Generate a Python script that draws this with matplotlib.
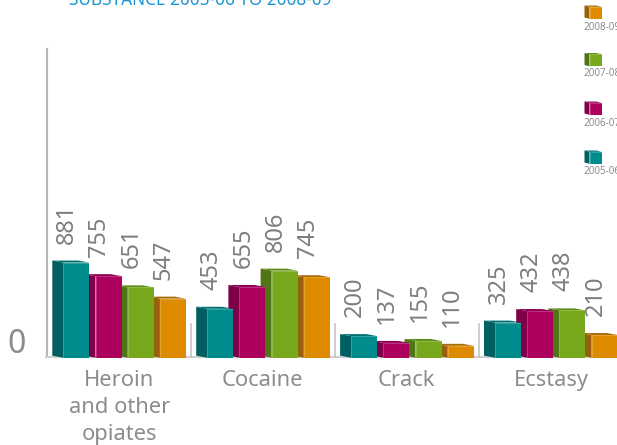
import matplotlib
matplotlib.use('Agg')
import matplotlib.pyplot as plt
from matplotlib.patches import Polygon

substances = ['Heroin\nand other\nopiates', 'Cocaine', 'Crack', 'Ecstasy']
years = ['2005-06', '2006-07', '2007-08', '2008-09']
v_2005 = [881, 453, 200, 325]
v_2006 = [755, 655, 137, 432]
v_2007 = [651, 806, 155, 438]
v_2008 = [547, 745, 110, 210]
series = [v_2005, v_2006, v_2007, v_2008]

# front, side, top face of each year
colours = [('#008c8c', '#005f60', '#006f70'),
           ('#ae005f', '#7f0049', '#8c0050'),
           ('#78a81c', '#4f7516', '#5f8a18'),
           ('#de8b00', '#98600a', '#aa6c05')]

GREY = '#8a8c8e'
PX_PER_UNIT = 0.108
BASE = 357.7
W, H = 617, 445
GROUP_STEP = 143.9
BAR_STEP = 32.2
BAR_W = 26
DEPTH_X = 11
DEPTH_Y = 2

plt.rcParams['font.family'] = ['Noto Sans', 'DejaVu Sans']
fig = plt.figure(figsize=(W / 100, H / 100), dpi=100)

# bars live in value units on y, pixels on x
ax = fig.add_axes([0, 0, 1, 1])
ax.set_xlim(0, W)
ax.set_ylim(-(H - BASE) / PX_PER_UNIT, BASE / PX_PER_UNIT)
ax.axis('off')

# second axes in plain pixels for the frame, swatches and text
px = fig.add_axes([0, 0, 1, 1], zorder=-1)
px.set_xlim(0, W)
px.set_ylim(H, 0)
px.axis('off')
top = fig.add_axes([0, 0, 1, 1], zorder=5)
top.set_xlim(0, W)
top.set_ylim(H, 0)
top.axis('off')
top.patch.set_alpha(0)


def box(a, x, y0, y1, w, dx, dy, cols, z):
    front, side, roof = cols
    a.add_patch(Polygon([(x, y0), (x - dx, y0 + dy), (x - dx, y1 + dy), (x, y1)],
                        fc=side, ec='none', zorder=z))
    a.add_patch(Polygon([(x, y1), (x - dx, y1 + dy), (x + w - dx, y1 + dy), (x + w, y1)],
                        fc=roof, ec='none', zorder=z))
    a.add_patch(Polygon([(x, y0), (x + w, y0), (x + w, y1), (x, y1)],
                        fc=front, ec='none', zorder=z))
    a.plot([x, x, x + w], [y0, y1, y1], color='white', alpha=0.2, lw=0.7,
           zorder=z, solid_capstyle='butt')


# frame
px.plot([46.5, 46.5], [49, BASE - 0.5], color='#b4b6b8', lw=1.5)
px.plot([46, W], [BASE - 1, BASE - 1], color='#cfd0d1', lw=1.5)
for x in [190.5, 335, 479]:
    px.plot([x, x], [324, BASE - 1], color='#c4c5c6', lw=1.2)

# back bars first so each front face overlaps the next bar's side
dy_units = DEPTH_Y / PX_PER_UNIT
for g in range(len(substances)):
    for s in reversed(range(len(series))):
        x = 63.3 + g * GROUP_STEP + s * BAR_STEP
        v = series[s][g]
        z = 3 + (4 - s) + g * 5
        box(ax, x, 0, v, BAR_W, DEPTH_X, dy_units, colours[s], z)
        ax.annotate(str(v), xy=(x + 4, v), xytext=(0, 19 * 0.72),
                    textcoords='offset points', rotation=90, ha='center', va='bottom',
                    fontsize=17, color='#7c7e80', zorder=50)

# group labels
for g, name in enumerate(substances):
    top.text([119.5, 262.5, 406.7, 551.7][g], 370, name, ha='center', va='top',
             fontsize=15.8, color=GREY, linespacing=1.36)

top.text(16.5, 344.5, '0', ha='center', va='center', fontsize=23, color=GREY)
top.text(69, 5, 'SUBSTANCE 2005-06 TO 2008-09', ha='left', va='baseline',
         fontsize=12.4, color='#1b96d2', clip_on=False)

# year key, newest at the top
key_y = [150.5, 101.5, 53, 5.5]
key_lab = [171, 124, 74, 27.3]
for i in range(len(years)):
    y = key_y[i]
    box(top, 589.5, y + 13.3, y + 1.3, 12, 5, -1.3, colours[i], 3)
    top.text(584, key_lab[i], years[i], ha='left', va='center', fontsize=7.1,
             color=GREY, clip_on=True)

fig.savefig('out.png', dpi=100)
